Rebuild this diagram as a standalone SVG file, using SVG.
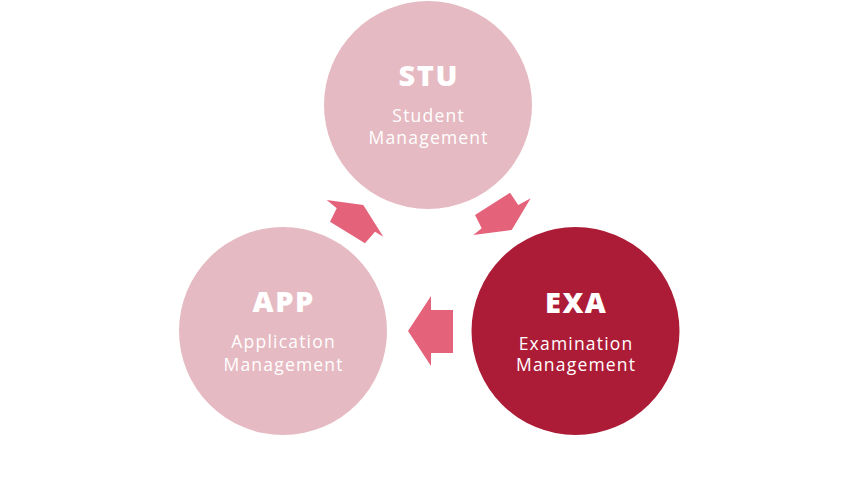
<svg xmlns="http://www.w3.org/2000/svg" width="856" height="482" viewBox="0 0 856 482">
<style>
.light{fill:#E6BAC2}
.dark{fill:#AD1C36}
.arrow{fill:#E5637A}
.abbr{font-family:"Open Sans","Liberation Sans",sans-serif;font-weight:800;font-size:29px;fill:#ffffff;text-anchor:middle;letter-spacing:1.5px}
.name{font-family:"Open Sans","Liberation Sans",sans-serif;font-weight:400;font-size:17.5px;fill:#ffffff;text-anchor:middle;letter-spacing:1.2px}
</style>
<rect width="856" height="482" fill="#ffffff"/>
<g id="connectors">
<polygon class="arrow" points="363.3,205 383.3,236.7 375,231.7 365,243.3 330,221.7 336.7,208.3 326.7,200"/>
<polygon class="arrow" points="511.7,230 473.3,235 481.7,228.3 475,215 510,192.7 518.3,205 530.7,198.3"/>
<polygon class="arrow" points="408,331 431,296 431,310 453,310 453,353 431,353 431,366"/>
</g>
<g id="STU">
<circle class="light" cx="428" cy="105" r="104"/>
<text class="abbr" x="428.7" y="85.5">STU</text>
<text class="name" x="428.6" y="122">Student</text>
<text class="name" x="428.6" y="144">Management</text>
</g>
<g id="APP">
<circle class="light" cx="283" cy="331" r="104"/>
<text class="abbr" x="283.7" y="312">APP</text>
<text class="name" x="283.6" y="348">Application</text>
<text class="name" x="283.6" y="370.5">Management</text>
</g>
<g id="EXA">
<circle class="dark" cx="575.5" cy="331" r="104"/>
<text class="abbr" x="576.2" y="313">EXA</text>
<text class="name" x="576.1" y="349.5">Examination</text>
<text class="name" x="576.1" y="371">Management</text>
</g>
</svg>
